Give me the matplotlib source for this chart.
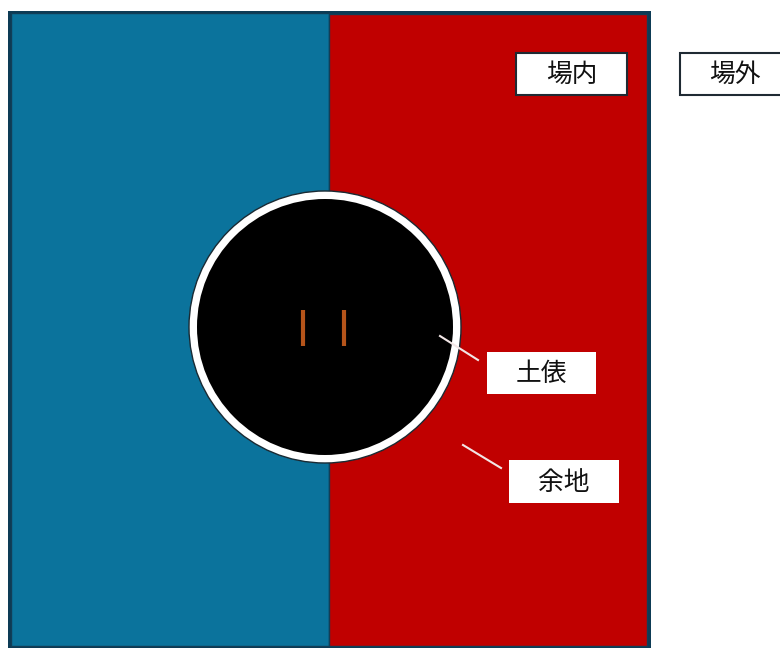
import matplotlib
matplotlib.use("Agg")
import matplotlib.pyplot as plt
from matplotlib.patches import Rectangle, Circle

plt.rcParams['font.family'] = ['Noto Sans CJK JP', 'DejaVu Sans']

# layout in pixel units (y grows downward)
halves = [(11, 13, 318, 633, '#0b739c'), (329, 14, 318, 632, '#c00000')]
ring_center = (325, 327)
ring_outer, ring_inner = 136, 128
marks_x = [303, 344]
marks_y = (310, 346)
labels = ['場内', '場外', '土俵', '余地']
label_boxes = [(516, 53, 111, 42, True), (680, 53, 110, 42, True),
               (487, 352, 109, 42, False), (509, 460, 110, 43, False)]
leaders = [((440, 478), (336, 360)), ((463, 501), (445, 468))]

fig = plt.figure(figsize=(7.8, 6.49), dpi=100)
ax = fig.add_axes([0, 0, 1, 1])
ax.set_xlim(0, 780)
ax.set_ylim(649, 0)
ax.axis('off')

# outer frame
ax.add_patch(Rectangle((8, 11), 643, 637, facecolor='#0d3b55', edgecolor='none'))
for x, y, w, h, c in halves:
    ax.add_patch(Rectangle((x, y), w, h, facecolor=c, edgecolor='#123e57', lw=1))

# ring
ax.add_patch(Circle(ring_center, ring_outer, facecolor='white', edgecolor='#1a2a33', lw=1))
ax.add_patch(Circle(ring_center, ring_inner, facecolor='black', edgecolor='none'))
for mx in marks_x:
    ax.plot([mx, mx], marks_y, color='#b5541a', lw=3, solid_capstyle='butt')

for (xs, ys) in leaders:
    ax.plot(xs, ys, color='#f2e6e6', lw=1.5)

for text, (x, y, w, h, border) in zip(labels, label_boxes):
    ax.add_patch(Rectangle((x, y), w, h, facecolor='white',
                           edgecolor='#1f2a33' if border else 'none', lw=1.5))
    ax.text(x + w / 2, y + h / 2 + 1, text, ha='center', va='center',
            fontsize=18.5, color='#111111')

fig.savefig('out.png', dpi=100)
